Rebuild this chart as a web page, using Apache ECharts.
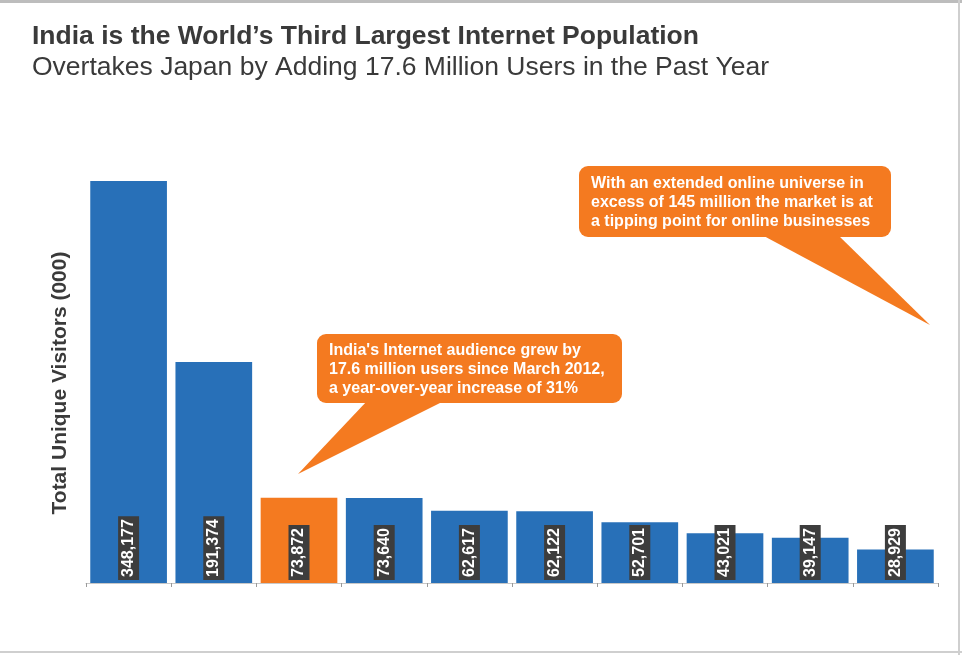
<!DOCTYPE html>
<html>
<head>
<meta charset="utf-8">
<script src="https://cdn.jsdelivr.net/npm/echarts@6/dist/echarts.min.js"></script>
<style>
  html, body { margin: 0; padding: 0; background: #fff; }
  #chart { width: 962px; height: 655px; }
</style>
</head>
<body>
<div id="chart"></div>
<script>
// values (thousands of unique visitors)
var categories = ['C1', 'C2', 'India', 'C4', 'C5', 'C6', 'C7', 'C8', 'C9', 'C10'];
var visitors = [348177, 191374, 73872, 73640, 62617, 62122, 52701, 43021, 39147, 28929];
var highlightIndex = 2;

var BLUE = '#2870b8';
var ORANGE = '#f47a20';
var TEXT = '#3a3a3a';
var FONT = '"Liberation Sans", Arial, sans-serif';

var chart = echarts.init(document.getElementById('chart'));

var barData = visitors.map(function (v, i) {
  return {
    value: v,
    itemStyle: { color: i === highlightIndex ? ORANGE : BLUE }
  };
});

// speech bubble: rounded box plus a triangle pointer
function bubble(box, base, tip, lines, textX, textY) {
  return [
    {
      type: 'rect',
      shape: { x: box[0], y: box[1], width: box[2], height: box[3], r: 9 },
      style: { fill: ORANGE }
    },
    {
      type: 'polygon',
      shape: { points: [[base[0], base[2] - 2], [base[1], base[2] - 2], tip] },
      style: { fill: ORANGE }
    },
    {
      type: 'text',
      x: textX,
      y: textY,
      style: {
        text: lines.join('\n'),
        fill: '#fff',
        font: 'bold 16px ' + FONT,
        lineHeight: 19
      }
    }
  ];
}

var graphics = [
  { type: 'rect', shape: { x: 0, y: 0, width: 962, height: 3 }, style: { fill: '#bdbdbd' } },
  { type: 'rect', shape: { x: 958, y: 0, width: 2, height: 655 }, style: { fill: '#cfcfcf' } },
  { type: 'rect', shape: { x: 0, y: 651, width: 962, height: 2 }, style: { fill: '#cfcfcf' } },
  {
    type: 'text',
    x: 60,
    y: 383,
    rotation: Math.PI / 2,
    style: {
      text: 'Total Unique Visitors (000)',
      fill: TEXT,
      font: 'bold 21px ' + FONT,
      align: 'center',
      verticalAlign: 'middle'
    }
  }
];
graphics = graphics.concat(
  bubble([317, 334, 305, 69], [367, 444, 403], [298, 474],
    ["India's Internet audience grew by", '17.6 million users since March 2012,', 'a year-over-year increase of 31%'],
    329, 341),
  bubble([579, 166, 312, 71], [762, 838, 237], [930, 325],
    ['With an extended online universe in', 'excess of 145 million the market is at', 'a tipping point for online businesses'],
    591, 174)
);

chart.setOption({
  animation: false,
  title: {
    text: 'India is the World\u2019s Third Largest Internet Population',
    subtext: 'Overtakes Japan by Adding 17.6 Million Users in the Past Year',
    left: 27,
    top: 18,
    itemGap: 4,
    textStyle: {
      fontFamily: FONT,
      fontSize: 26.5,
      fontWeight: 'bold',
      color: TEXT
    },
    subtextStyle: {
      fontFamily: FONT,
      fontSize: 26.5,
      color: TEXT
    }
  },
  grid: { left: 86, right: 24, top: 98, bottom: 72 },
  xAxis: {
    type: 'category',
    data: categories,
    axisLine: { lineStyle: { color: '#c8c8c8', width: 1 } },
    axisTick: { show: true, length: 4, lineStyle: { color: '#9a9a9a' } },
    axisLabel: { show: false }
  },
  yAxis: {
    type: 'value',
    min: 0,
    max: 420000,
    axisLine: { show: false },
    axisTick: { show: false },
    axisLabel: { show: false },
    splitLine: { show: false }
  },
  series: [{
    type: 'bar',
    data: barData,
    barCategoryGap: '10%',
    label: {
      show: true,
      position: 'insideBottom',
      rotate: 90,
      align: 'left',
      verticalAlign: 'middle',
      distance: 3,
      color: '#fff',
      fontFamily: FONT,
      fontWeight: 'bold',
      fontSize: 16,
      backgroundColor: '#3d3d3d',
      padding: [3, 3, 2, 3],
      formatter: function (p) {
        return p.value.toLocaleString('en-US');
      }
    }
  }],
  graphic: graphics
});
</script>
</body>
</html>
